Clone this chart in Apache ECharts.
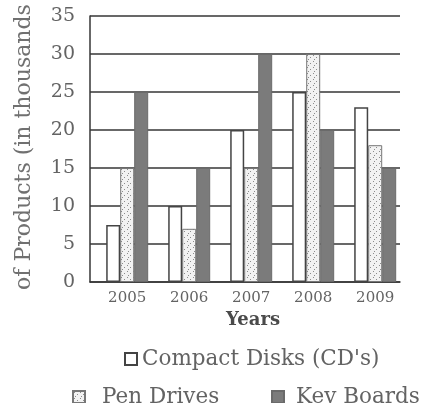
<!DOCTYPE html>
<html>
<head>
<meta charset="utf-8">
<script src="https://cdn.jsdelivr.net/npm/echarts@6/dist/echarts.min.js"></script>
<style>
  html, body { margin: 0; padding: 0; background: #fff; }
  #chart { width: 438px; height: 403px; }
</style>
</head>
<body>
<div id="chart"></div>
<script>
// Products sold per year (in thousands)
const years = [2005, 2006, 2007, 2008, 2009];
const compactDisks = [7.5, 10, 20, 25, 23];
const penDrives = [15, 7, 15, 30, 18];
const keyBoards = [25, 15, 30, 20, 15];
const seriesNames = ["Compact Disks (CD's)", 'Pen Drives', 'Key Boards'];

const SERIF = '"DejaVu Serif", "Liberation Serif", serif';
const TEXT = '#636363';
const LINE = '#363636';

// light stippled fill for the pen drive bars
function stipple() {
  const c = document.createElement('canvas');
  c.width = 6; c.height = 6;
  const g = c.getContext('2d');
  g.fillStyle = '#f2f2f2';
  g.fillRect(0, 0, 6, 6);
  g.fillStyle = '#8c8c8c';
  g.fillRect(1, 1, 1, 1);
  g.fillRect(4, 3, 1, 1);
  g.fillRect(2, 5, 1, 1);
  return c;
}

const pairs = vals => years.map((y, i) => [y, vals[i]]);

const legendText = { fontFamily: SERIF, fontSize: 21.5, color: TEXT };
const legendBase = { padding: 0, icon: 'rect', itemWidth: 12, itemHeight: 12 };

const chart = echarts.init(document.getElementById('chart'), null, { renderer: 'canvas' });

chart.setOption({
  animation: false,
  backgroundColor: '#fff',
  textStyle: { fontFamily: SERIF, color: TEXT },
  grid: { left: 90, right: 38, top: 16, bottom: 121, containLabel: false, outerBoundsMode: 'none' },
  xAxis: {
    type: 'value',
    min: years[0] - 0.6,
    max: years[years.length - 1] + 0.4,
    splitLine: { show: false },
    axisLine: { show: true, onZero: false, lineStyle: { color: LINE, width: 1.5 } },
    axisTick: { show: false },
    axisLabel: {
      customValues: years,
      formatter: v => String(v),
      fontFamily: SERIF, fontSize: 15, color: TEXT, margin: 9
    },
    name: 'Years',
    nameLocation: 'middle',
    nameGap: 28,
    nameTextStyle: {
      fontFamily: SERIF, fontSize: 18, fontWeight: 'bold', color: '#4a4a4a',
      padding: [0, 0, 0, 16]
    }
  },
  yAxis: {
    type: 'value',
    min: 0, max: 35, interval: 5,
    axisLine: { show: true, lineStyle: { color: LINE, width: 1.5 } },
    axisTick: { show: false },
    splitLine: { show: true, lineStyle: { color: LINE, width: 1.6 } },
    axisLabel: { fontFamily: SERIF, fontSize: 19, color: TEXT, margin: 15 },
    name: 'of Products (in thousands',
    nameLocation: 'middle',
    nameRotate: 90,
    nameGap: 55,
    nameTextStyle: { fontFamily: SERIF, fontSize: 22, color: '#707070', padding: [0, 0, 0, 4] }
  },
  legend: [
    Object.assign({ data: [seriesNames[0]], left: 124, top: 348, textStyle: legendText }, legendBase),
    Object.assign({ data: [seriesNames[1]], left: 72, top: 386,
      textStyle: Object.assign({ padding: [0, 0, 0, 12] }, legendText) }, legendBase),
    Object.assign({ data: [seriesNames[2]], left: 271, top: 386,
      textStyle: Object.assign({ padding: [0, 0, 0, 7] }, legendText) }, legendBase)
  ],
  series: [
    {
      name: seriesNames[0], type: 'bar', data: pairs(compactDisks),
      barWidth: 14, barGap: '0%',
      itemStyle: { color: '#ffffff', borderColor: '#444', borderWidth: 1.5 }
    },
    {
      name: seriesNames[1], type: 'bar', data: pairs(penDrives),
      barWidth: 14, barGap: '0%',
      itemStyle: { color: { image: stipple(), repeat: 'repeat' }, borderColor: '#777', borderWidth: 1 }
    },
    {
      name: seriesNames[2], type: 'bar', data: pairs(keyBoards),
      barWidth: 14, barGap: '0%',
      itemStyle: { color: '#7b7b7b', borderColor: '#6a6a6a', borderWidth: 1 }
    }
  ]
});
</script>
</body>
</html>
